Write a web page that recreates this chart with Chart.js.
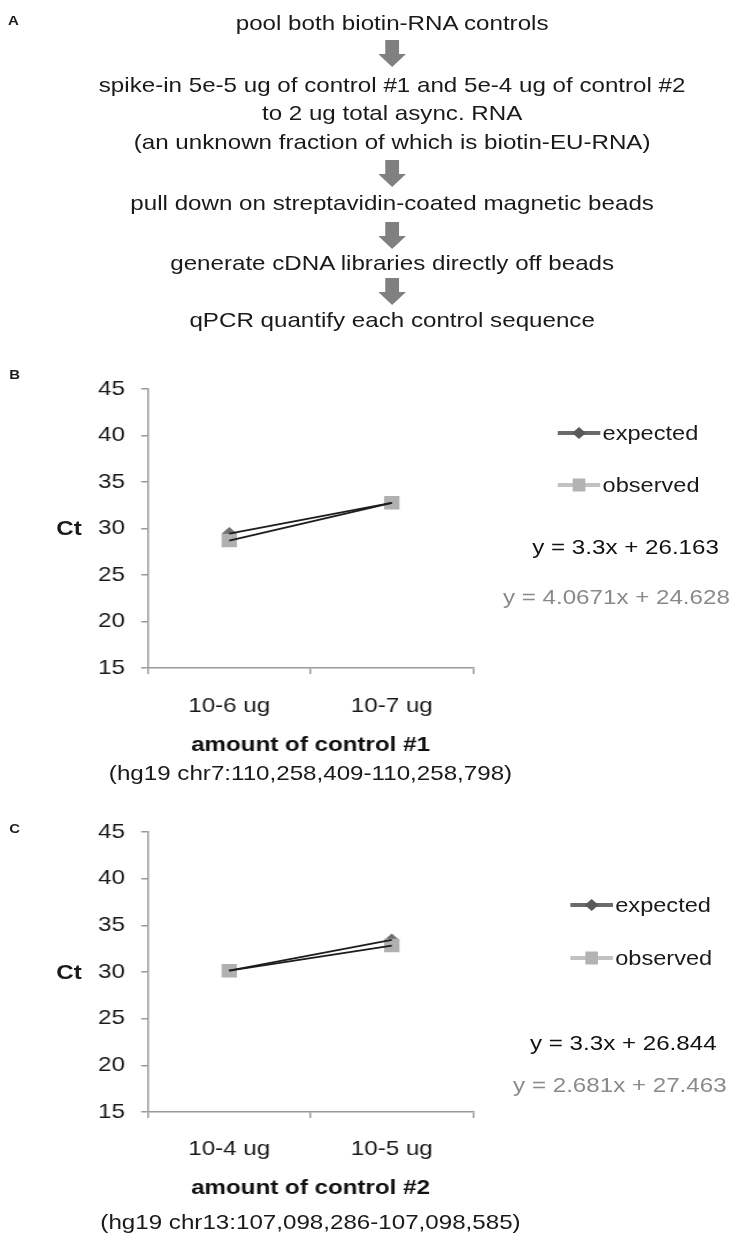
<!DOCTYPE html>
<html>
<head>
<meta charset="utf-8">
<script src="https://cdn.jsdelivr.net/npm/chart.js@4.4.1/dist/chart.umd.min.js"></script>
<style>
html,body{margin:0;padding:0;background:#fff;}
body{width:736px;height:1240px;overflow:hidden;position:relative;font-family:"Liberation Sans",Arial,sans-serif;color:#1a1a1a;}
#wrap{position:absolute;left:0;top:0;width:640px;height:1240px;transform:scaleX(1.15);transform-origin:0 0;}
.t{position:absolute;white-space:nowrap;font-size:21px;line-height:24px;}
.c{text-align:center;width:600px;}
.lab{position:absolute;font-weight:bold;font-size:13px;line-height:16px;}
.arrow{position:absolute;width:24px;height:27px;}
.leg{font-size:20.5px;}
canvas{position:absolute;left:0;}
svg{position:absolute;}
</style>
</head>
<body>
<div id="wrap">
  <!-- Panel A -->
  <div class="lab" style="left:7px;top:13px;">A</div>
  <div class="t c" style="left:41px;top:11px;">pool both biotin-RNA controls</div>
  <svg class="arrow" style="left:329px;top:40px;" viewBox="0 0 24 27"><polygon points="6,0 18,0 18,14 24,14 12,27 0,14 6,14" fill="#808080"/></svg>
  <div class="t c" style="left:41px;top:73px;">spike-in 5e-5 ug of control #1 and 5e-4 ug of control #2</div>
  <div class="t c" style="left:41px;top:101px;">to 2 ug total async. RNA</div>
  <div class="t c" style="left:41px;top:130px;">(an unknown fraction of which is biotin-EU-RNA)</div>
  <svg class="arrow" style="left:329px;top:160px;" viewBox="0 0 24 27"><polygon points="6,0 18,0 18,14 24,14 12,27 0,14 6,14" fill="#808080"/></svg>
  <div class="t c" style="left:41px;top:191px;">pull down on streptavidin-coated magnetic beads</div>
  <svg class="arrow" style="left:329px;top:222px;" viewBox="0 0 24 27"><polygon points="6,0 18,0 18,14 24,14 12,27 0,14 6,14" fill="#808080"/></svg>
  <div class="t c" style="left:41px;top:251px;">generate cDNA libraries directly off beads</div>
  <svg class="arrow" style="left:329px;top:278px;" viewBox="0 0 24 27"><polygon points="6,0 18,0 18,14 24,14 12,27 0,14 6,14" fill="#808080"/></svg>
  <div class="t c" style="left:41px;top:308px;">qPCR quantify each control sequence</div>

  <!-- Panel B -->
  <div class="lab" style="left:8px;top:367px;">B</div>
  <canvas id="chartB" width="440" height="401" style="top:360px;width:440px;height:401px;"></canvas>
  <div class="t" style="left:40px;top:516px;width:40px;text-align:center;font-weight:bold;">Ct</div>
  <div class="t c" style="left:-30px;top:761px;">(hg19 chr7:110,258,409-110,258,798)</div>
  <svg style="left:484px;top:423px;" width="39" height="20" viewBox="0 0 39 20"><line x1="1" y1="10" x2="38" y2="10" stroke="#6a6a6a" stroke-width="4"/><polygon points="19.5,4 25.5,10 19.5,16 13.5,10" fill="#5a5a5a"/></svg>
  <div class="t leg" style="left:524px;top:421px;">expected</div>
  <svg style="left:484px;top:475px;" width="39" height="20" viewBox="0 0 39 20"><line x1="1" y1="10" x2="38" y2="10" stroke="#c2c2c2" stroke-width="4"/><rect x="14" y="3.5" width="11" height="13" fill="#b3b3b3"/></svg>
  <div class="t leg" style="left:524px;top:473px;">observed</div>
  <div class="t c" style="left:244px;top:535px;color:#111;">y = 3.3x + 26.163</div>
  <div class="t c" style="left:236px;top:585px;color:#8a8a8a;">y = 4.0671x + 24.628</div>

  <!-- Panel C -->
  <div class="lab" style="left:8px;top:821px;">C</div>
  <canvas id="chartC" width="440" height="401" style="top:803px;width:440px;height:401px;"></canvas>
  <div class="t" style="left:40px;top:960px;width:40px;text-align:center;font-weight:bold;">Ct</div>
  <div class="t c" style="left:-30px;top:1210px;">(hg19 chr13:107,098,286-107,098,585)</div>
  <svg style="left:495px;top:895px;" width="39" height="20" viewBox="0 0 39 20"><line x1="1" y1="10" x2="38" y2="10" stroke="#6a6a6a" stroke-width="4"/><polygon points="19.5,4 25.5,10 19.5,16 13.5,10" fill="#5a5a5a"/></svg>
  <div class="t leg" style="left:535px;top:893px;">expected</div>
  <svg style="left:495px;top:948px;" width="39" height="20" viewBox="0 0 39 20"><line x1="1" y1="10" x2="38" y2="10" stroke="#c2c2c2" stroke-width="4"/><rect x="14" y="3.5" width="11" height="13" fill="#b3b3b3"/></svg>
  <div class="t leg" style="left:535px;top:946px;">observed</div>
  <div class="t c" style="left:242px;top:1031px;color:#111;">y = 3.3x + 26.844</div>
  <div class="t c" style="left:239px;top:1073px;color:#8a8a8a;">y = 2.681x + 27.463</div>
</div>

<script>
// ---- Data ----
const yTicks = [15, 20, 25, 30, 35, 40, 45];

const categoriesB = ['10-6 ug', '10-7 ug'];
const expectedB = [29.46, 32.76];
const observedB = [28.70, 32.76];

const categoriesC = ['10-4 ug', '10-5 ug'];
const expectedC = [30.14, 33.44];
const observedC = [30.14, 32.83];

const FONT = '"Liberation Sans", Arial, sans-serif';

function makeChart(id, categories, expected, observed, xTitle, labelPad, xHeight) {
  const ctx = document.getElementById(id).getContext('2d');
  return new Chart(ctx, {
    type: 'line',
    data: {
      labels: categories,
      datasets: [
        { label: 'expected trend', data: expected, order: 0, borderColor: '#1c1c1c', borderWidth: 1.8, pointRadius: 0, tension: 0, fill: false },
        { label: 'observed trend', data: observed, order: 0, borderColor: '#1c1c1c', borderWidth: 1.8, pointRadius: 0, tension: 0, fill: false },
        { label: 'observed', data: observed, order: 1, showLine: false, pointStyle: 'rect', pointRadius: 9.5, pointBackgroundColor: '#b0b0b0', pointBorderColor: '#b0b0b0', pointBorderWidth: 0 },
        { label: 'expected', data: expected, order: 2, showLine: false, pointStyle: 'rectRot', pointRadius: 6.5, pointBackgroundColor: '#707070', pointBorderColor: '#707070', pointBorderWidth: 0 }
      ]
    },
    options: {
      responsive: false,
      animation: false,
      layout: { padding: { top: 29, right: 28.7, left: 0, bottom: 0 } },
      plugins: { legend: { display: false }, tooltip: { enabled: false } },
      scales: {
        x: {
          type: 'category',
          offset: true,
          grid: { display: true, offset: true, drawOnChartArea: false, drawTicks: true, tickLength: 6, color: '#9a9a9a', lineWidth: 1.5 },
          border: { display: true, color: '#9a9a9a', width: 1.5 },
          ticks: { color: '#1a1a1a', font: { family: FONT, size: 21 }, padding: labelPad, maxRotation: 0 },
          title: { display: true, text: xTitle, color: '#111', font: { family: FONT, size: 21, weight: 'bold' }, padding: { top: 0, bottom: 3 } },
          afterFit: s => { s.height = xHeight; }
        },
        y: {
          min: 15, max: 45,
          afterBuildTicks: s => { s.ticks = yTicks.map(v => ({ value: v })); },
          grid: { display: true, drawOnChartArea: false, drawTicks: true, tickLength: 6, color: '#9a9a9a', lineWidth: 1.5 },
          border: { display: true, color: '#9a9a9a', width: 1.5 },
          ticks: { color: '#1a1a1a', font: { family: FONT, size: 21 }, padding: 14 },
          afterFit: s => { s.width = 128.7; }
        }
      }
    }
  });
}

makeChart('chartB', categoriesB, expectedB, observedB, 'amount of control #1', 20, 93);
makeChart('chartC', categoriesC, expectedC, observedC, 'amount of control #2', 19, 92);
</script>
</body>
</html>
